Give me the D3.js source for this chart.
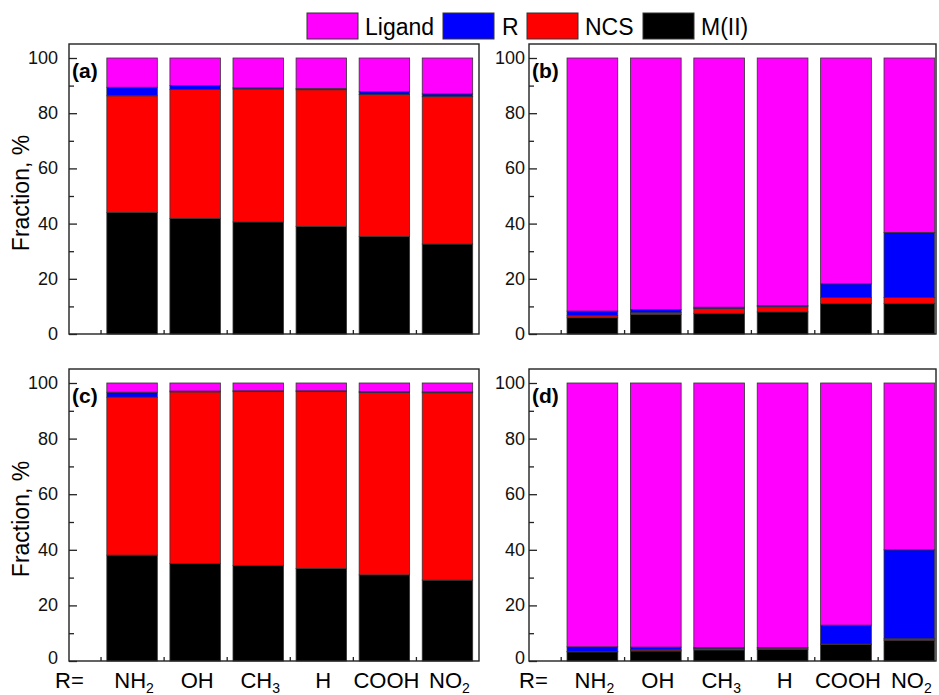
<!DOCTYPE html>
<html>
<head>
<meta charset="utf-8">
<script src="https://cdn.jsdelivr.net/npm/d3@7"></script>
<style>
  body { margin: 0; background: #fff; }
  svg { font-family: "Liberation Sans", Arial, sans-serif; }
  .frame { fill: none; stroke: #222; stroke-width: 1.4; }
  .bar { stroke: #333; stroke-width: 0.8; }
</style>
</head>
<body>
<script>
//categories and stack order (bottom to top)
var categories = ["NH2", "OH", "CH3", "H", "COOH", "NO2"];
var seriesNames = ["M(II)", "NCS", "R", "Ligand"];
var seriesColors = ["#000000", "#ff0000", "#0000ff", "#ff00ff"];
var legendOrder = ["Ligand", "R", "NCS", "M(II)"];
var yTicks = [0, 20, 40, 60, 80, 100];

//panel (a)
var metalA  = [44.0, 41.9, 40.6, 39.0, 35.3, 32.6];
var ncsA    = [42.3, 46.7, 48.2, 49.5, 51.5, 53.4];
var rA      = [3.1, 1.4, 0.4, 0.4, 1.0, 1.0];
var ligandA = [10.6, 10.0, 10.8, 11.1, 12.2, 13.0];

//panel (b)
var metalB  = [5.9, 7.1, 7.5, 8.0, 11.0, 11.1];
var ncsB    = [0.7, 0.6, 1.7, 1.9, 2.2, 2.1];
var rB      = [1.7, 1.2, 0.5, 0.4, 5.0, 23.6];
var ligandB = [91.7, 91.1, 90.3, 89.7, 81.8, 63.2];

//panel (c)
var metalC  = [38.1, 35.1, 34.4, 33.3, 31.0, 29.1];
var ncsC    = [56.8, 61.7, 62.5, 63.6, 65.6, 67.4];
var rC      = [1.8, 0.3, 0.3, 0.3, 0.3, 0.3];
var ligandC = [3.3, 2.9, 2.8, 2.8, 3.1, 3.2];

//panel (d)
var metalD  = [3.3, 3.6, 4.0, 4.1, 5.9, 7.5];
var ncsD    = [0.1, 0.4, 0.5, 0.5, 0.2, 0.5];
var rD      = [1.7, 1.0, 0.4, 0.3, 6.8, 32.0];
var ligandD = [94.9, 95.0, 95.1, 95.1, 87.1, 60.0];

var width = 939, height = 695;

var svg = d3.select("body").append("svg")
    .attr("width", width)
    .attr("height", height);

//panel frames
var panels = [
    {label: "(a)", data: [metalA, ncsA, rA, ligandA], x0: 69, x1: 479, xmax: 6.5, top: 44, y100: 58, y0: 334, labelGap: 11, rGap: 14, bottom: false},
    {label: "(b)", data: [metalB, ncsB, rB, ligandB], x0: 529, x1: 936, xmax: 6.42, top: 44, y100: 58, y0: 334, labelGap: 4, rGap: 10, bottom: false},
    {label: "(c)", data: [metalC, ncsC, rC, ligandC], x0: 69, x1: 479, xmax: 6.5, top: 369, y100: 383, y0: 661, labelGap: 11, rGap: 14, bottom: true},
    {label: "(d)", data: [metalD, ncsD, rD, ligandD], x0: 529, x1: 936, xmax: 6.42, top: 369, y100: 383, y0: 661, labelGap: 4, rGap: 10, bottom: true}
];

panels.forEach(function(p){

    var x = d3.scaleLinear().domain([0, p.xmax]).range([p.x0, p.x1]);
    var y = d3.scaleLinear().domain([0, 100]).range([p.y0, p.y100]);
    var barW = x(0.8) - x(0);

    var g = svg.append("g");

    //build stacked table
    var rows = categories.map(function(c, i){
        var row = {cat: c, idx: i + 1};
        seriesNames.forEach(function(s, k){ row[s] = p.data[k][i]; });
        return row;
    });
    var stacked = d3.stack().keys(seriesNames)(rows);

    g.selectAll(".layer")
        .data(stacked)
        .enter()
        .append("g")
        .attr("fill", function(d, k){ return seriesColors[k]; })
        .selectAll("rect")
        .data(function(d){ return d; })
        .enter()
        .append("rect")
        .attr("class", "bar")
        .attr("x", function(d){ return x(d.data.idx) - barW / 2; })
        .attr("width", barW)
        .attr("y", function(d){ return y(d[1]); })
        .attr("height", function(d){ return y(d[0]) - y(d[1]); });

    //frame
    g.append("rect")
        .attr("class", "frame")
        .attr("x", p.x0)
        .attr("y", p.top)
        .attr("width", p.x1 - p.x0)
        .attr("height", p.y0 - p.top);

    //y axis: ticks inward
    var yAxis = g.append("g").attr("transform", "translate(" + p.x0 + ",0)");
    yAxis.call(d3.axisRight(y).tickValues(yTicks).tickSize(8).tickFormat(""));
    yAxis.append("g").call(d3.axisRight(y).tickValues(d3.range(10, 100, 20)).tickSize(5).tickFormat(""));
    yAxis.selectAll(".domain").remove();
    yAxis.selectAll("line").attr("stroke", "#222").attr("stroke-width", 1.3);

    g.selectAll(".ylab")
        .data(yTicks)
        .enter()
        .append("text")
        .attr("x", p.x0 - p.labelGap)
        .attr("y", function(d){
            //zero label sits a bit higher above the category row
            return y(d) + ((p.bottom && d === 0) ? 3 : 6);
        })
        .attr("text-anchor", "end")
        .attr("font-size", 18)
        .attr("fill", "#111")
        .text(function(d){ return d; });

    //x ticks between bars, pointing up
    var xAxis = g.append("g").attr("transform", "translate(0," + p.y0 + ")");
    xAxis.call(d3.axisTop(x).tickValues(d3.range(0.5, 6, 1)).tickSize(4).tickFormat(""));
    xAxis.selectAll(".domain").remove();
    xAxis.selectAll("line").attr("stroke", "#222").attr("stroke-width", 1.3);

    //panel label
    g.append("text")
        .attr("x", p.x0 + 3)
        .attr("y", p.top + 34)
        .attr("font-size", 21)
        .attr("font-weight", "bold")
        .text(p.label);

    //category labels under the bottom panels
    if (p.bottom){
        g.append("text")
            .attr("x", p.x0 - p.rGap)
            .attr("y", 688)
            .attr("font-size", 22)
            .text("R=");

        var labs = g.selectAll(".cat")
            .data(categories)
            .enter()
            .append("text")
            .attr("x", function(d, i){ return x(i + 1) + 2; })
            .attr("y", 688)
            .attr("text-anchor", "middle")
            .attr("font-size", 22);

        labs.each(function(d){
            var t = d3.select(this);
            var m = d.match(/^(.*?)(\d*)$/);
            t.append("tspan").text(m[1]);
            if (m[2]) {
                t.append("tspan").attr("font-size", 14).attr("dy", 5).text(m[2]);
            }
        });
    }
});

//y axis titles
[193, 519].forEach(function(cy){
    svg.append("text")
        .attr("transform", "translate(29," + cy + ") rotate(-90)")
        .attr("text-anchor", "middle")
        .attr("font-size", 23)
        .text("Fraction, %");
});

//legend
var legendX = [307, 443, 527, 643];
var legendTextX = [365, 502, 585, 701];
var legend = svg.append("g");
legendOrder.forEach(function(name, i){
    var k = seriesNames.indexOf(name);
    legend.append("rect")
        .attr("x", legendX[i])
        .attr("y", 13)
        .attr("width", 51)
        .attr("height", 26)
        .attr("fill", seriesColors[k])
        .attr("stroke", "#333")
        .attr("stroke-width", 1);
    legend.append("text")
        .attr("x", legendTextX[i])
        .attr("y", 35)
        .attr("font-size", 23)
        .text(name);
});
</script>
</body>
</html>
